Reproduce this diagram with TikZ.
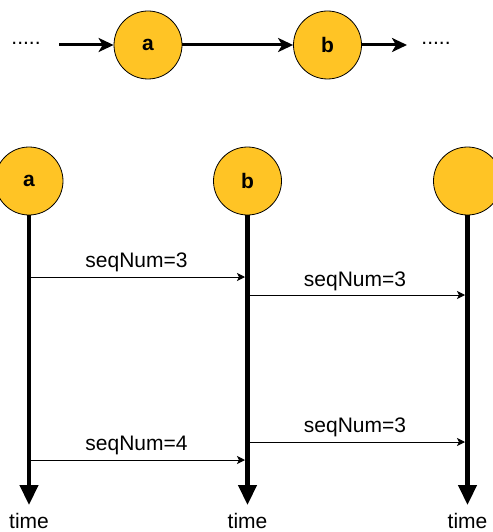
\documentclass[tikz,border=0pt]{standalone}
\usepackage{fontspec}
\setmainfont{Liberation Sans}
\usetikzlibrary{arrows.meta}
\definecolor{nodeyellow}{RGB}{255,196,37}
\tikzset{
  proc/.style={circle, draw=black, line width=0.8pt, fill=nodeyellow, minimum size=68pt, inner sep=0pt, font=\fontsize{21}{25}\selectfont\bfseries},
  lbl/.style={font=\fontsize{21}{25}\selectfont, inner sep=0pt},
  flow/.style={line width=3pt, -{Stealth[length=15pt,width=14pt,inset=4pt]}},
  timeline/.style={line width=4.5pt, -{Triangle[length=20pt,width=18pt]}},
  msg/.style={line width=1pt, -{Stealth[length=8pt,width=8pt,inset=2pt]}}
}
\begin{document}
\begin{tikzpicture}[x=1pt,y=-1pt]
\useasboundingbox (0,0) rectangle (492,532);
% top row
\node[proc] (A) at (148,45) {a};
\node[proc] (B) at (327.5,45) {b};
\node[lbl] (dl) at (26,43) {.....};
\node[lbl] (dr) at (436,43) {.....};
\coordinate (s0) at (59,45);
\coordinate (e0) at (407,45);
\draw[flow] (s0) -- (A);
\draw[flow] (A) -- (B);
\draw[flow] (B) -- (e0);
% bottom processes
\node[proc] (PA) at (29,181) {a};
\node[proc] (PB) at (247.5,181) {b};
\node[proc] (PC) at (467.5,181) {};
\coordinate (ta) at (29,505);
\coordinate (tb) at (247.5,505);
\coordinate (tc) at (467.5,505);
\draw[timeline] (PA) -- (ta);
\draw[timeline] (PB) -- (tb);
\draw[timeline] (PC) -- (tc);
\node[lbl] (la) at (29,521) {time};
\node[lbl] (lb) at (247.5,521) {time};
\node[lbl] (lc) at (467.5,521) {time};
% messages
\coordinate (m1s) at (31,277);
\coordinate (m1e) at (245,277);
\coordinate (m2s) at (249.5,295);
\coordinate (m2e) at (465,295);
\coordinate (m3s) at (31,460);
\coordinate (m3e) at (245,460);
\coordinate (m4s) at (249.5,442);
\coordinate (m4e) at (465,442);
\draw[msg] (m1s) -- (m1e);
\draw[msg] (m2s) -- (m2e);
\draw[msg] (m3s) -- (m3e);
\draw[msg] (m4s) -- (m4e);
\node[lbl] (t1) at (136.5,262) {seqNum=3};
\node[lbl] (t2) at (355,281) {seqNum=3};
\node[lbl] (t3) at (136.5,445) {seqNum=4};
\node[lbl] (t4) at (355,427) {seqNum=3};
\end{tikzpicture}
\end{document}
